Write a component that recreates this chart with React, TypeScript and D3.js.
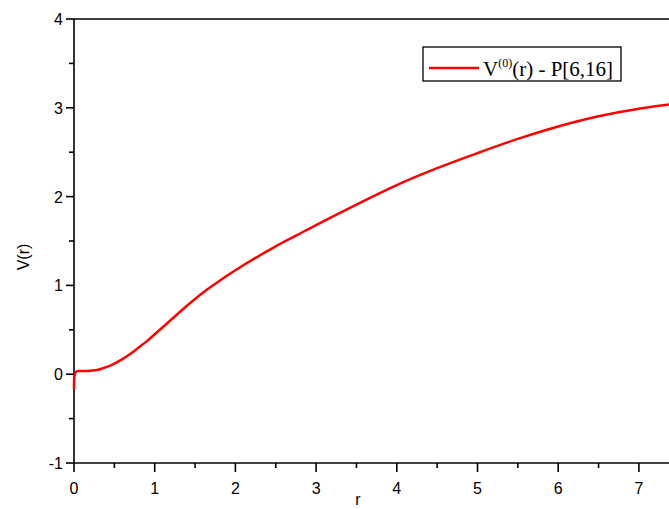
import React, { useEffect, useRef } from 'react';
import * as d3 from 'd3';

// Potential curve V(r)
const rValues = [0, 0.01, 0.03, 0.1, 0.2, 0.3, 0.4, 0.5, 0.6, 0.7, 0.8, 0.9, 1.0, 1.2, 1.4, 1.6, 1.8, 2.0, 2.25, 2.5, 2.75, 3.0, 3.5, 4.0, 4.5, 5.0, 5.5, 6.0, 6.5, 7.0, 7.5, 8.0];
const vValues = [-0.17, 0.0, 0.03, 0.035, 0.04, 0.05, 0.08, 0.12, 0.17, 0.23, 0.30, 0.37, 0.45, 0.61, 0.77, 0.92, 1.05, 1.17, 1.31, 1.44, 1.56, 1.68, 1.91, 2.13, 2.32, 2.49, 2.65, 2.79, 2.905, 2.99, 3.05, 3.09];

const xTicks = [0, 1, 2, 3, 4, 5, 6, 7];
const yTicks = [-1, 0, 1, 2, 3, 4];
const legendLabel = 'V';
const legendSup = '(0)';
const legendRest = '(r) - P[6,16]';

const W = 669;
const H = 509;

const App = () => {
    const ref = useRef(null);

    useEffect(() => {
        const svg = d3.select(ref.current);
        svg.selectAll('*').remove();

        const left = 74, bottom = 463, top = 19;
        const x = d3.scaleLinear().domain([0, 8]).range([left, left + 8 * 80.7]);
        const y = d3.scaleLinear().domain([-1, 4]).range([bottom, top]);

        const axisColor = '#000';
        const sans = "'Liberation Sans', Arial, sans-serif";

        // minor ticks halfway between the majors
        const xMinor = d3.range(0.5, 8, 1);
        const yMinor = d3.range(-0.5, 4, 1);

        const g = svg.append('g');

        // x ticks
        g.selectAll('.xt').data(xTicks).enter().append('line')
            .attr('x1', d => x(d)).attr('x2', d => x(d))
            .attr('y1', bottom).attr('y2', bottom + 9)
            .attr('stroke', axisColor).attr('stroke-width', 1.6);
        g.selectAll('.xm').data(xMinor).enter().append('line')
            .attr('x1', d => x(d)).attr('x2', d => x(d))
            .attr('y1', bottom).attr('y2', bottom + 5)
            .attr('stroke', axisColor).attr('stroke-width', 1.6);
        g.selectAll('.xl').data(xTicks).enter().append('text')
            .attr('x', d => x(d)).attr('y', 494)
            .attr('text-anchor', 'middle')
            .style('font-family', sans).style('font-size', '16px')
            .text(d => d);

        // y ticks
        g.selectAll('.yt').data(yTicks).enter().append('line')
            .attr('x1', left - 8).attr('x2', left)
            .attr('y1', d => y(d)).attr('y2', d => y(d))
            .attr('stroke', axisColor).attr('stroke-width', 1.6);
        g.selectAll('.ym').data(yMinor).enter().append('line')
            .attr('x1', left - 5).attr('x2', left)
            .attr('y1', d => y(d)).attr('y2', d => y(d))
            .attr('stroke', axisColor).attr('stroke-width', 1.6);
        g.selectAll('.yl').data(yTicks).enter().append('text')
            .attr('x', left - 11).attr('y', d => y(d) + 6)
            .attr('text-anchor', 'end')
            .style('font-family', sans).style('font-size', '16px')
            .text(d => d);

        // axis frame lines (left, bottom, top)
        g.append('line').attr('x1', left).attr('x2', left).attr('y1', top).attr('y2', bottom)
            .attr('stroke', axisColor).attr('stroke-width', 1.6);
        g.append('line').attr('x1', left).attr('x2', x(8)).attr('y1', bottom).attr('y2', bottom)
            .attr('stroke', axisColor).attr('stroke-width', 1.6);
        g.append('line').attr('x1', left).attr('x2', x(8)).attr('y1', top).attr('y2', top)
            .attr('stroke', axisColor).attr('stroke-width', 1.6);

        // curve
        const data = rValues.map((r, i) => ({ r, v: vValues[i] }));
        const line = d3.line()
            .x(d => x(d.r))
            .y(d => y(d.v))
            .curve(d3.curveCatmullRom.alpha(0.5));
        g.append('path')
            .datum(data)
            .attr('fill', 'none')
            .attr('stroke', '#ff0000')
            .attr('stroke-width', 2.5)
            .attr('d', line);

        // axis labels
        svg.append('text')
            .attr('x', 358).attr('y', 505)
            .attr('text-anchor', 'middle')
            .style('font-family', sans).style('font-size', '16px')
            .text('r');
        svg.append('text')
            .attr('transform', 'translate(29,257) rotate(-90)')
            .attr('text-anchor', 'middle')
            .style('font-family', sans).style('font-size', '16px')
            .text('V(r)');

        // legend
        const lg = svg.append('g');
        lg.append('rect')
            .attr('x', 423).attr('y', 47).attr('width', 198).attr('height', 34)
            .attr('fill', '#fff').attr('stroke', '#000').attr('stroke-width', 1.3);
        lg.append('line')
            .attr('x1', 429).attr('x2', 479).attr('y1', 68).attr('y2', 68)
            .attr('stroke', '#ff0000').attr('stroke-width', 2.5);
        const t = lg.append('text')
            .attr('x', 483).attr('y', 76)
            .style('font-family', "'Liberation Serif', 'Times New Roman', serif")
            .style('font-size', '21px');
        t.append('tspan').text(legendLabel);
        t.append('tspan').attr('dy', -9).style('font-size', '12px').text(legendSup);
        t.append('tspan').attr('dy', 9).text(legendRest);
    }, []);

    return (
        <svg ref={ref} width={W} height={H}
            style={{ position: 'absolute', left: 0, top: 0, background: '#fff' }} />
    );
};

export default App;
